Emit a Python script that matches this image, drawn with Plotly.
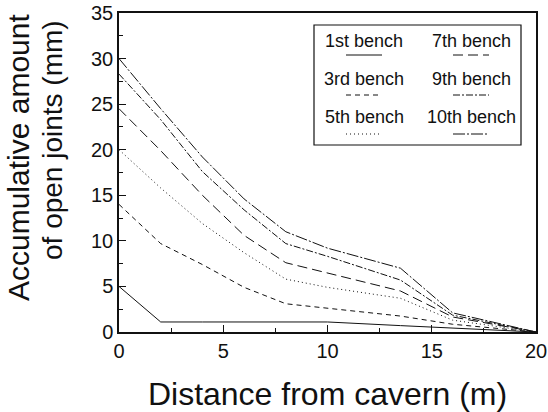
import plotly.graph_objects as go

# ---- data ----
distance = [0, 2, 4, 6, 8, 10, 13.5, 16, 20]
bench_1st = [5.0, 1.1, 1.1, 1.1, 1.1, 1.1, 0.7, 0.45, 0.0]
bench_3rd = [14.0, 9.7, 7.4, 4.9, 3.1, 2.6, 1.75, 0.85, 0.0]
bench_5th = [20.0, 15.8, 11.9, 8.7, 5.8, 4.9, 3.7, 1.3, 0.0]
bench_7th = [24.5, 19.9, 15.0, 10.6, 7.6, 6.5, 4.5, 1.65, 0.0]
bench_9th = [28.3, 23.3, 17.6, 13.4, 9.7, 8.3, 5.7, 1.85, 0.0]
bench_10th = [30.0, 24.5, 19.2, 14.6, 11.0, 9.2, 7.0, 2.1, 0.0]

series_names = ["1st bench", "3rd bench", "5th bench", "7th bench", "9th bench", "10th bench"]
series_values = [bench_1st, bench_3rd, bench_5th, bench_7th, bench_9th, bench_10th]
dash_styles = ["solid", "5px,4px", "1px,3px", "10px,5px", "7px,2px,2px,2px", "12px,2px,2px,2px"]

x_title = "Distance from cavern (m)"
y_title_lines = ["Accumulative amount", "of open joints (mm)"]

FONT = "Liberation Sans, Arial, Helvetica, sans-serif"
INK = "#111111"

fig = go.Figure()
for name, vals, dash in zip(series_names, series_values, dash_styles):
    fig.add_trace(go.Scatter(x=distance, y=vals, mode="lines", name=name,
                             line=dict(color=INK, width=1, dash=dash),
                             showlegend=False))

# plot area in pixels: left 119, right 536, top 13, bottom 332
L, R, T, B = 119, 536, 13, 332
W, H = 548, 412


def px(xp):
    return (xp - L) / (R - L)


def py(yp):
    return (B - yp) / (B - T)


# custom legend (text above line sample, 2 columns x 3 rows)
shapes = [dict(type="rect", xref="paper", yref="paper",
               x0=px(314), x1=px(521), y0=py(145), y1=py(25),
               line=dict(color=INK, width=1.2), fillcolor="white", layer="above")]
annotations = []
col_x = [364, 471]
row_text_y = [41, 79, 117]
row_line_y = [55, 95, 134]
order = [(0, 0), (0, 1), (0, 2), (1, 0), (1, 1), (1, 2)]
for (c, r), name, dash in zip(order, series_names, dash_styles):
    annotations.append(dict(xref="paper", yref="paper", x=px(col_x[c]), y=py(row_text_y[r]),
                            text=name, showarrow=False, xanchor="center", yanchor="middle",
                            font=dict(family=FONT, size=18, color=INK)))
    shapes.append(dict(type="line", xref="paper", yref="paper",
                       x0=px(col_x[c] - 18), x1=px(col_x[c] + 18),
                       y0=py(row_line_y[r]), y1=py(row_line_y[r]),
                       line=dict(color=INK, width=1, dash=dash), layer="above"))

# y-axis title (two lines, as in the reference)
annotations.append(dict(xref="paper", yref="paper", x=px(18), y=py(158),
                        text=y_title_lines[0], textangle=-90, showarrow=False,
                        xanchor="center", yanchor="middle",
                        font=dict(family=FONT, size=30, color=INK)))
annotations.append(dict(xref="paper", yref="paper", x=px(52), y=py(140),
                        text=y_title_lines[1], textangle=-90, showarrow=False,
                        xanchor="center", yanchor="middle",
                        font=dict(family=FONT, size=28, color=INK)))

axis_common = dict(
    showgrid=False, zeroline=False, showline=True, linecolor=INK, linewidth=1.5,
    mirror=True, ticks="inside", ticklen=7, tickwidth=1, tickcolor=INK,
    tickfont=dict(family=FONT, size=20, color=INK), automargin=False,
    minor=dict(ticks="inside", ticklen=4, tickwidth=1, tickcolor=INK),
)

fig.update_layout(
    width=W, height=H,
    margin=dict(l=L, r=W - R, t=T, b=H - B, autoexpand=False),
    paper_bgcolor="white", plot_bgcolor="white",
    font=dict(family=FONT, color=INK),
    xaxis=dict(range=[0, 20], dtick=5, tick0=0, **axis_common,
               title=dict(text=x_title, font=dict(family=FONT, size=32, color=INK), standoff=27)),
    yaxis=dict(range=[0, 35], dtick=5, tick0=0, **axis_common),
    shapes=shapes,
    annotations=annotations,
)
fig.update_xaxes(minor_dtick=2.5)
fig.update_yaxes(minor_dtick=2.5)

fig.write_html("out.html")
